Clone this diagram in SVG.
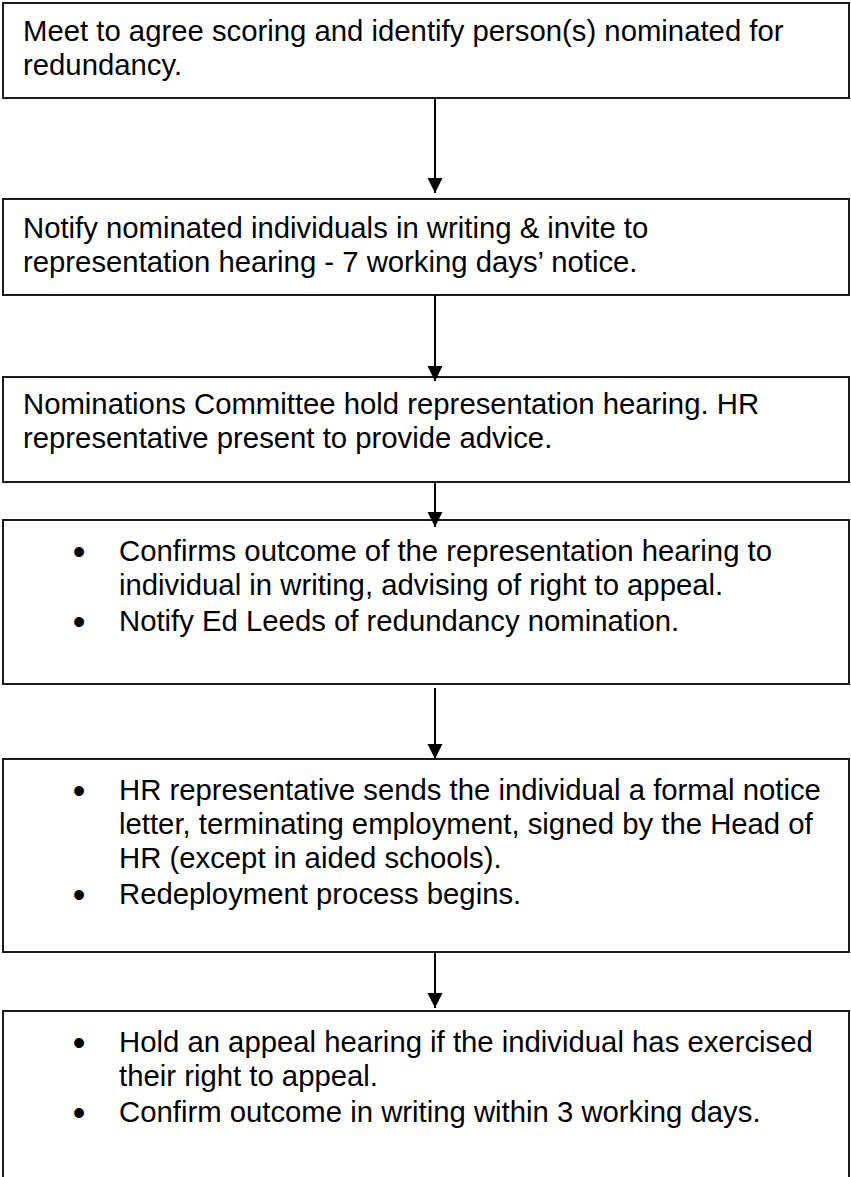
<svg xmlns="http://www.w3.org/2000/svg" width="851" height="1177" viewBox="0 0 851 1177">
<style>
.box{fill:#fff;stroke:#1a1a1a;stroke-width:2}
.t{font-family:"Liberation Sans",Arial,sans-serif;font-size:29.3px;fill:#000}
.b{font-family:"Liberation Sans",Arial,sans-serif;font-size:36px;fill:#000;text-anchor:middle}
.c{stroke:#000;stroke-width:2;fill:none}
</style>
<defs>
<marker id="ah" markerUnits="userSpaceOnUse" markerWidth="16" markerHeight="16" viewBox="0 0 16 16" refX="15" refY="8" orient="auto">
<path d="M0,0.5 L15,8 L0,15.5 Z" fill="#000"/>
</marker>
</defs>
<rect width="851" height="1177" fill="#fff"/>
<g id="n1">
<rect class="box" x="3" y="3" width="846" height="95"/>
<text class="t" x="23" y="41">Meet to agree scoring and identify person(s) nominated for</text>
<text class="t" x="23" y="75">redundancy.</text>
</g>
<g id="n2">
<rect class="box" x="3" y="199" width="846" height="96"/>
<text class="t" x="23" y="238">Notify nominated individuals in writing &amp; invite to</text>
<text class="t" x="23" y="272">representation hearing - 7 working days’ notice.</text>
</g>
<g id="n3">
<rect class="box" x="3" y="377" width="846" height="105"/>
<text class="t" x="23" y="414">Nominations Committee hold representation hearing. HR</text>
<text class="t" x="23" y="448">representative present to provide advice.</text>
</g>
<g id="n4">
<rect class="box" x="3" y="520" width="846" height="164"/>
<text class="b" x="79" y="564">•</text>
<text class="t" x="119" y="561">Confirms outcome of the representation hearing to</text>
<text class="t" x="119" y="595">individual in writing, advising of right to appeal.</text>
<text class="b" x="79" y="634">•</text>
<text class="t" x="119" y="631">Notify Ed Leeds of redundancy nomination.</text>
</g>
<g id="n5">
<rect class="box" x="3" y="759" width="846" height="193"/>
<text class="b" x="79" y="803">•</text>
<text class="t" x="119" y="800">HR representative sends the individual a formal notice</text>
<text class="t" x="119" y="834">letter, terminating employment, signed by the Head of</text>
<text class="t" x="119" y="868">HR (except in aided schools).</text>
<text class="b" x="79" y="907">•</text>
<text class="t" x="119" y="904">Redeployment process begins.</text>
</g>
<g id="n6">
<rect class="box" x="3" y="1011" width="846" height="175"/>
<text class="b" x="79" y="1055">•</text>
<text class="t" x="119" y="1052">Hold an appeal hearing if the individual has exercised</text>
<text class="t" x="119" y="1086">their right to appeal.</text>
<text class="b" x="79" y="1125">•</text>
<text class="t" x="119" y="1122">Confirm outcome in writing within 3 working days.</text>
</g>
<g id="connectors">
<line class="c" x1="435" y1="98" x2="435" y2="193" marker-end="url(#ah)"/>
<line class="c" x1="435" y1="295" x2="435" y2="381" marker-end="url(#ah)"/>
<line class="c" x1="435" y1="482" x2="435" y2="527" marker-end="url(#ah)"/>
<line class="c" x1="435" y1="688" x2="435" y2="759" marker-end="url(#ah)"/>
<line class="c" x1="435" y1="952" x2="435" y2="1008" marker-end="url(#ah)"/>
</g>
</svg>
